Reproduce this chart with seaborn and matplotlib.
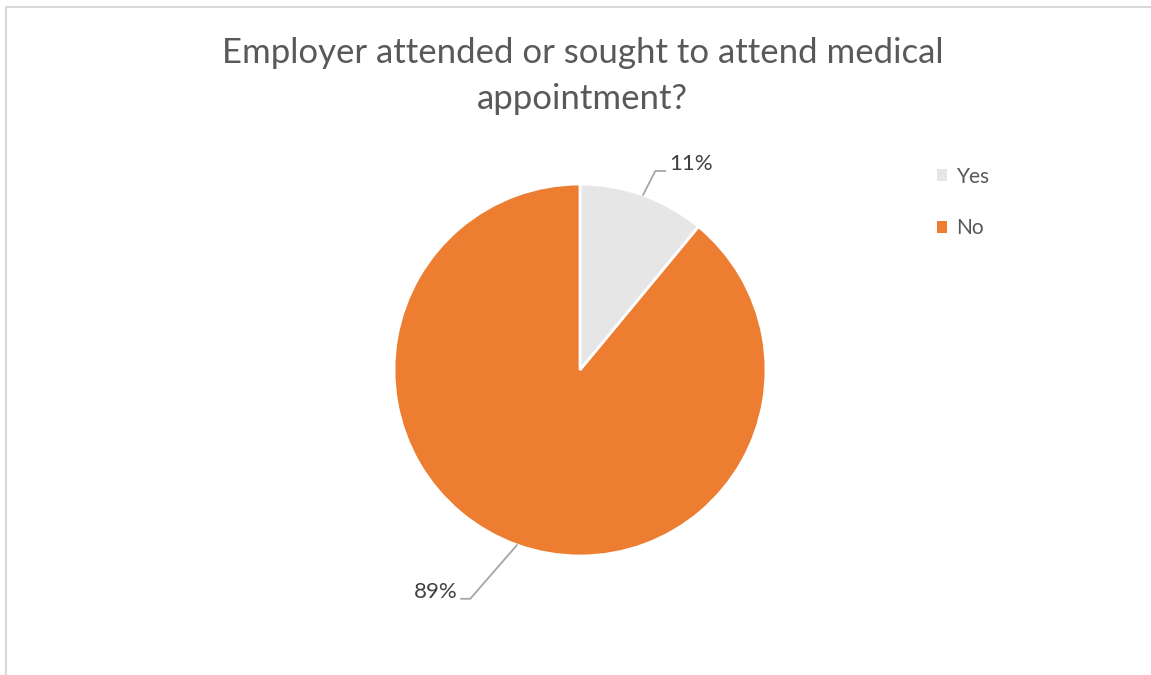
import numpy as np
import matplotlib
matplotlib.use("Agg")
import matplotlib.pyplot as plt
import seaborn as sns
from matplotlib.lines import Line2D
from matplotlib.patches import Patch

# Data
answers = ["Yes", "No"]
shares = [11, 89]
colors = ["#E7E6E6", "#ED7D31"]

sns.set_theme(style="white")
plt.rcParams["font.family"] = ["Lato", "DejaVu Sans"]

fig = plt.figure(figsize=(11.51, 6.75), dpi=100)

# frame lines (top and left only, like the cropped screenshot)
fig.add_artist(Line2D([6 / 1151, 1], [1 - 7 / 675, 1 - 7 / 675], color="#D9D9D9", lw=1.5))
fig.add_artist(Line2D([6 / 1151, 6 / 1151], [0, 1 - 7 / 675], color="#D9D9D9", lw=1.5))

ax = fig.add_axes([(580 - 186) / 1151, (675 - 556) / 675, 372 / 1151, 372 / 675])
wedges, _ = ax.pie(shares, colors=colors, startangle=90, counterclock=False,
                   wedgeprops=dict(edgecolor="white", linewidth=2))
ax.set_xlim(-1, 1)
ax.set_ylim(-1, 1)
ax.set_aspect("equal")
ax.axis("off")

# data labels with leader lines
label_pos = [(0.48, 1.07), (-0.66, -1.23)]
elbows = [(0.405, 1.07), (-0.59, -1.23)]
for w, val, (lx, ly), (ex, ey) in zip(wedges, shares, label_pos, elbows):
    ang = np.deg2rad((w.theta1 + w.theta2) / 2)
    px, py = np.cos(ang), np.sin(ang)
    if lx > 0:
        ax.plot([px, ex, lx - 0.02], [py, ey, ey], color="#A6A6A6", lw=1.3, clip_on=False)
        ax.text(lx, ey + 0.035, f"{val}%", ha="left", va="center", fontsize=16, color="#404040")
    else:
        ax.plot([px, ex, lx + 0.02], [py, ey, ey], color="#A6A6A6", lw=1.3, clip_on=False)
        ax.text(lx, ey + 0.035, f"{val}%", ha="right", va="center", fontsize=16, color="#404040")

fig.text(0.506, 1 - 53 / 675, "Employer attended or sought to attend medical",
         ha="center", va="center", fontsize=25, color="#595959")
fig.text(0.506, 1 - 99 / 675, "appointment?",
         ha="center", va="center", fontsize=25, color="#595959")

handles = [Patch(facecolor=c, edgecolor="none") for c in colors]
leg = fig.legend(handles, answers, loc="upper left", bbox_to_anchor=(918 / 1151, 1 - 148 / 675),
                 frameon=False, fontsize=15, labelspacing=1.5, handlelength=0.5,
                 handleheight=0.5, handletextpad=0.45)
for t in leg.get_texts():
    t.set_color("#595959")

fig.savefig("out.png", dpi=100)
